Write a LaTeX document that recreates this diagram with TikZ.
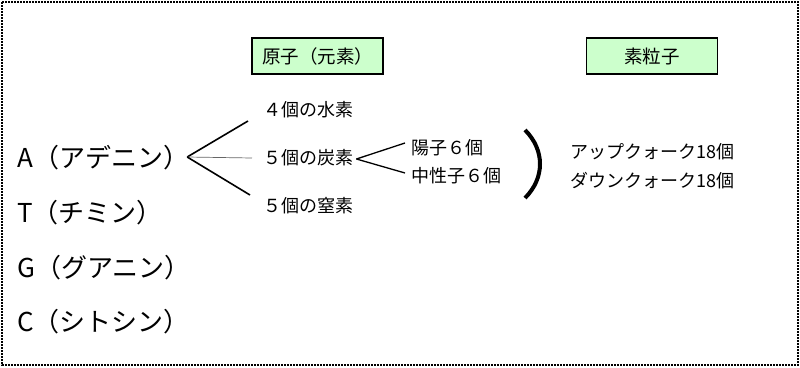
\documentclass[tikz,border=0pt]{standalone}
\usepackage{fontspec}
\newfontfamily\jpfont{Noto Sans CJK JP}
\usetikzlibrary{positioning}
\definecolor{boxgreen}{HTML}{CCFFCC}

\begin{document}
\begin{tikzpicture}[x=1pt,y=-1pt,font=\jpfont,
    base/.style={anchor=west,inner sep=0pt,font=\jpfont\fontsize{26}{28}\selectfont},
    part/.style={anchor=west,inner sep=0pt,font=\jpfont\fontsize{18}{20}\selectfont},
    title/.style={draw=black,line width=1.5pt,fill=boxgreen,minimum width=131pt,minimum height=36pt,inner sep=0pt,font=\jpfont\fontsize{18.5}{20}\selectfont}]
    \useasboundingbox (0,0) rectangle (800,367);
    \draw[line width=2pt,dash pattern=on 2pt off 1pt] (2,2) rectangle (798,365);
    \node[title] (atom) at (317.5,56) {原子（元素）};
    \node[title] (quark) at (652,56) {素粒子};
    \node[base] (ade) at (17,158) {A（アデニン）};
    \node[base] (thy) at (17,213) {T（チミン）};
    \node[base] (gua) at (17,268) {G（グアニン）};
    \node[base] (cyt) at (17,322) {C（シトシン）};
    \node[part] (hyd) at (263,110) {４個の水素};
    \node[part] (car) at (263,158) {５個の炭素};
    \node[part] (nit) at (263,206) {５個の窒素};
    \node[part] (pro) at (411,148) {陽子６個};
    \node[part] (neu) at (411,176) {中性子６個};
    \node[part] (up) at (570,152) {アップクォーク18個};
    \node[part] (down) at (570,181) {ダウンクォーク18個};
    \draw[line width=1.6pt] ([shift={(-2,-1)}]ade.east) -- ([shift={(-15,11)}]hyd.west);
    \draw[black!60,line width=0.7pt] ([shift={(-2,-1)}]ade.east) -- ([shift={(-11,0)}]car.west);
    \draw[line width=1.6pt] ([shift={(-2,-1)}]ade.east) -- ([shift={(-13,-11)}]nit.west);
    \draw[line width=1.3pt] ([shift={(3,1)}]car.east) -- ([shift={(-6,-5)}]pro.west);
    \draw[line width=1.3pt] ([shift={(3,1)}]car.east) -- ([shift={(-6,-3)}]neu.west);
    \draw[line width=4pt] (525,130) .. controls (545,150) and (545,178) .. (525,198);
  \end{tikzpicture}
\end{document}
